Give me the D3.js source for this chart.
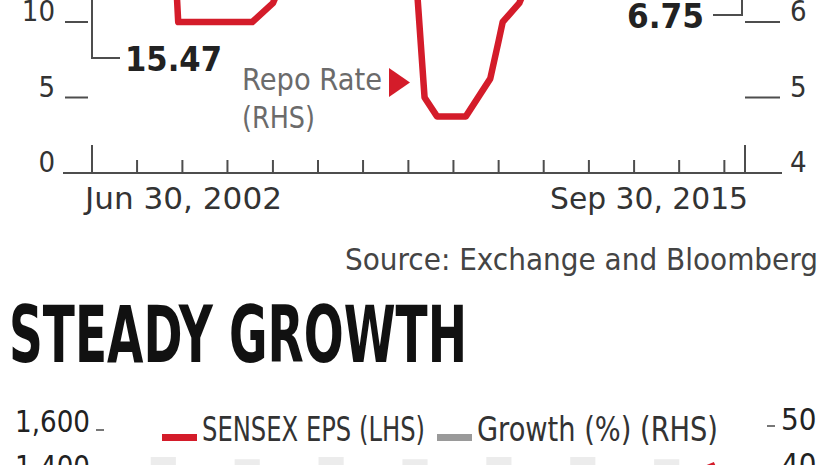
<!DOCTYPE html>
<html>
<head>
<meta charset="utf-8">
<script src="https://cdn.jsdelivr.net/npm/d3@7"></script>
<style>
  body { margin: 0; background: #fff; }
  svg { display: block; font-family: "Liberation Sans Narrow", "DejaVu Sans Condensed", "Liberation Sans", sans-serif; }
</style>
</head>
<body>
<svg id="frame"></svg>
<script>
// ---- data ----
// repo rate (RHS, %), monthly change points
const repoDates = ["2002-06", "2002-11", "2003-04", "2004-02", "2004-03", "2005-09", "2006-02", "2006-08",
  "2007-02", "2007-07", "2008-06", "2008-08", "2008-10", "2009-01", "2009-03", "2009-06", "2010-01",
  "2010-07", "2010-09", "2010-10", "2011-02", "2011-04", "2011-06", "2011-08", "2011-11", "2012-02",
  "2012-04", "2012-06", "2013-01", "2013-05", "2013-09", "2014-01", "2014-12", "2015-03", "2015-06", "2015-09"];
const repoValues = [8.0, 7.5, 7.0, 7.0, 6.0, 6.0, 6.25, 7.0,
  7.5, 7.75, 8.5, 9.0, 8.0, 6.5, 5.0, 4.75, 4.75,
  5.25, 5.75, 6.0, 6.25, 6.5, 6.75, 7.25, 8.0, 8.5,
  8.5, 8.0, 7.75, 7.25, 7.75, 8.0, 7.75, 7.5, 7.25, 6.75];
const lhsStart = 15.47;   // first value of the LHS series
const repoEnd = 6.75;     // last repo rate
const leftTicks = [0, 5, 10];
const rightTicks = [4, 5, 6];
const firstLabel = "Jun 30, 2002";
const lastLabel = "Sep 30, 2015";

// second chart: Sensex EPS (LHS) and growth % (RHS)
const epsTicks = [1600, 1400];
const growthTicks = [50, 40];
const years = ["FY09", "FY10", "FY11", "FY12", "FY13", "FY14", "FY15"];
const growthValues = [44, 43.5, 44, 43.5, 44, 44, 43.5];
const epsValues = [820, 830, 1020, 1130, 1180, 1200, 1450];

// ---- layout ----
const width = 826;
const height = 465;
const red = "#d41c2a";
const axisCol = "#4d4d4d";

const svg = d3.select('#frame')
  .attr('width', width)
  .attr('height', height);

const parse = d3.utcParse("%Y-%m");
const repo = repoDates.map((d, i) => ({date: parse(d), v: repoValues[i]}));

const xScale = d3.scaleUtc()
  .domain([repo[0].date, repo[repo.length - 1].date])
  .range([92, 745]);
const yLeft = d3.scaleLinear().domain([0, 10]).range([173, 22]);
const yRight = d3.scaleLinear().domain([4, 6]).range([173, 22]);

// x ticks every 11 months
const tickDates = d3.range(15).map(i => d3.utcMonth.offset(repo[0].date, 11 * i));

const gTop = svg.append('g');

// baseline
gTop.append('line')
  .attr('x1', 63).attr('x2', 782)
  .attr('y1', yLeft(0)).attr('y2', yLeft(0))
  .attr('stroke', axisCol).attr('stroke-width', 2.2);

gTop.selectAll('.xtick').data(tickDates).enter()
  .append('line')
  .attr('class', 'xtick')
  .attr('x1', d => xScale(d)).attr('x2', d => xScale(d))
  .attr('y1', yLeft(0)).attr('y2', yLeft(0) - 13)
  .attr('stroke', axisCol).attr('stroke-width', 2);

gTop.selectAll('.xend').data(xScale.domain()).enter()
  .append('line')
  .attr('class', 'xend')
  .attr('x1', d => xScale(d)).attr('x2', d => xScale(d))
  .attr('y1', yLeft(0)).attr('y2', yLeft(0) - 28)
  .attr('stroke', axisCol).attr('stroke-width', 2);

gTop.append('text')
  .attr('x', xScale(xScale.domain()[0]) - 7).attr('y', 209)
  .attr('font-size', 30).attr('fill', '#333')
  .attr('textLength', 197).attr('lengthAdjust', 'spacingAndGlyphs')
  .text(firstLabel);
gTop.append('text')
  .attr('x', xScale(xScale.domain()[1]) + 3).attr('y', 209)
  .attr('text-anchor', 'end')
  .attr('font-size', 30).attr('fill', '#333')
  .attr('textLength', 198).attr('lengthAdjust', 'spacingAndGlyphs')
  .text(lastLabel);

// left axis
gTop.selectAll('.ltick').data(leftTicks).enter()
  .append('line')
  .attr('class', 'ltick')
  .attr('x1', 65).attr('x2', 88)
  .attr('y1', d => yLeft(d)).attr('y2', d => yLeft(d))
  .attr('stroke', axisCol).attr('stroke-width', 2);
gTop.selectAll('.llab').data(leftTicks).enter()
  .append('text')
  .attr('class', 'llab')
  .attr('x', 55).attr('y', d => yLeft(d) - 1)
  .attr('text-anchor', 'end')
  .attr('font-size', 29).attr('fill', '#333')
  .text(d => d);

// right axis
gTop.selectAll('.rtick').data(rightTicks).enter()
  .append('line')
  .attr('class', 'rtick')
  .attr('x1', 745).attr('x2', 780)
  .attr('y1', d => yRight(d)).attr('y2', d => yRight(d))
  .attr('stroke', axisCol).attr('stroke-width', 2);
gTop.selectAll('.rlab').data(rightTicks).enter()
  .append('text')
  .attr('class', 'rlab')
  .attr('x', 790).attr('y', d => yRight(d) - 1)
  .attr('font-size', 29).attr('fill', '#333')
  .text(d => d);

// repo line
const line = d3.line()
  .x(d => xScale(d.date))
  .y(d => yRight(d.v));
gTop.append('path')
  .datum(repo)
  .attr('d', line)
  .attr('fill', 'none')
  .attr('stroke', red)
  .attr('stroke-width', 6.5)
  .attr('stroke-linejoin', 'round');

// callouts
const x0 = xScale(xScale.domain()[0]);
const x1 = xScale(xScale.domain()[1]);
gTop.append('path')
  .attr('d', `M${x0},${yLeft(lhsStart)}V58H120`)
  .attr('fill', 'none').attr('stroke', axisCol).attr('stroke-width', 2);
gTop.append('text')
  .attr('x', 125).attr('y', 71)
  .attr('font-size', 34).attr('font-weight', 'bold').attr('fill', '#222')
  .attr('textLength', 97).attr('lengthAdjust', 'spacingAndGlyphs')
  .text(lhsStart.toFixed(2));

gTop.append('path')
  .attr('d', `M${x1 - 3},${yRight(repoEnd)}V15H713`)
  .attr('fill', 'none').attr('stroke', axisCol).attr('stroke-width', 2);
gTop.append('text')
  .attr('x', 704).attr('y', 28)
  .attr('text-anchor', 'end')
  .attr('font-size', 34).attr('font-weight', 'bold').attr('fill', '#222')
  .attr('textLength', 77).attr('lengthAdjust', 'spacingAndGlyphs')
  .text(repoEnd.toFixed(2));

gTop.append('text')
  .attr('x', 242).attr('y', 90)
  .attr('font-size', 30).attr('fill', '#6b6b6b')
  .attr('textLength', 140).attr('lengthAdjust', 'spacingAndGlyphs')
  .text('Repo Rate');
gTop.append('text')
  .attr('x', 242).attr('y', 128)
  .attr('font-size', 30).attr('fill', '#6b6b6b')
  .attr('textLength', 73).attr('lengthAdjust', 'spacingAndGlyphs')
  .text('(RHS)');
gTop.append('path')
  .attr('d', 'M389,68L410,82.5L389,97Z')
  .attr('fill', red);

// source
svg.append('text')
  .attr('x', 818).attr('y', 270)
  .attr('text-anchor', 'end')
  .attr('font-size', 30).attr('fill', '#444')
  .attr('textLength', 473).attr('lengthAdjust', 'spacingAndGlyphs')
  .text('Source: Exchange and Bloomberg');

// title
svg.append('text')
  .attr('x', 9).attr('y', 362)
  .attr('font-size', 78).attr('font-weight', 'bold').attr('fill', '#111')
  .attr('textLength', 458).attr('lengthAdjust', 'spacingAndGlyphs')
  .text('STEADY GROWTH');

// ---- second chart ----
const yEps = d3.scaleLinear().domain([1400, 1600]).range([475, 430]);
const yGrowth = d3.scaleLinear().domain([40, 50]).range([475, 430]);
const xBand = d3.scaleBand().domain(years).range([92, 738]).padding(0.7);

const gBot = svg.append('g');

gBot.selectAll('rect.bar').data(growthValues).enter()
  .append('rect')
  .attr('class', 'bar')
  .attr('x', (d, i) => xBand(years[i]))
  .attr('width', xBand.bandwidth())
  .attr('y', d => yGrowth(d))
  .attr('height', d => height + 40 - yGrowth(d))
  .attr('fill', '#ececec');

gBot.append('path')
  .datum(epsValues)
  .attr('d', d3.line()
    .x((d, i) => xBand(years[i]) + xBand.bandwidth() / 2 + (i === epsValues.length - 1 ? 48 : 0))
    .y(d => yEps(d)))
  .attr('fill', 'none').attr('stroke', red).attr('stroke-width', 4);

gBot.selectAll('.elab').data(epsTicks).enter()
  .append('text')
  .attr('class', 'elab')
  .attr('x', 90).attr('y', d => yEps(d) + 2)
  .attr('text-anchor', 'end')
  .attr('font-size', 31).attr('fill', '#222')
  .attr('textLength', 75).attr('lengthAdjust', 'spacingAndGlyphs')
  .text(d => d3.format(',')(d));
gBot.selectAll('.etick').data(epsTicks).enter()
  .append('line')
  .attr('class', 'etick')
  .attr('x1', 96).attr('x2', 104)
  .attr('y1', d => yEps(d)).attr('y2', d => yEps(d))
  .attr('stroke', '#777').attr('stroke-width', 2);

gBot.selectAll('.glab').data(growthTicks).enter()
  .append('text')
  .attr('class', 'glab')
  .attr('x', 781).attr('y', d => yGrowth(d))
  .attr('font-size', 31).attr('fill', '#222')
  .text(d => d);
gBot.selectAll('.gtick').data(growthTicks).enter()
  .append('line')
  .attr('class', 'gtick')
  .attr('x1', 767).attr('x2', 775)
  .attr('y1', d => yGrowth(d) - 4).attr('y2', d => yGrowth(d) - 4)
  .attr('stroke', '#777').attr('stroke-width', 2);

// legend
const legend = [
  {label: 'SENSEX EPS (LHS)', color: red, x: 162, len: 223},
  {label: 'Growth (%) (RHS)', color: '#9a9a9a', x: 437, len: 241}
];
const lg = gBot.selectAll('.leg').data(legend).enter()
  .append('g').attr('class', 'leg');
lg.append('rect')
  .attr('x', d => d.x).attr('y', 434)
  .attr('width', 35).attr('height', 7)
  .attr('fill', d => d.color);
lg.append('text')
  .attr('x', d => d.x + 40).attr('y', 441)
  .attr('font-size', 33).attr('fill', '#333')
  .attr('textLength', d => d.len).attr('lengthAdjust', 'spacingAndGlyphs')
  .text(d => d.label);
</script>
</body>
</html>
